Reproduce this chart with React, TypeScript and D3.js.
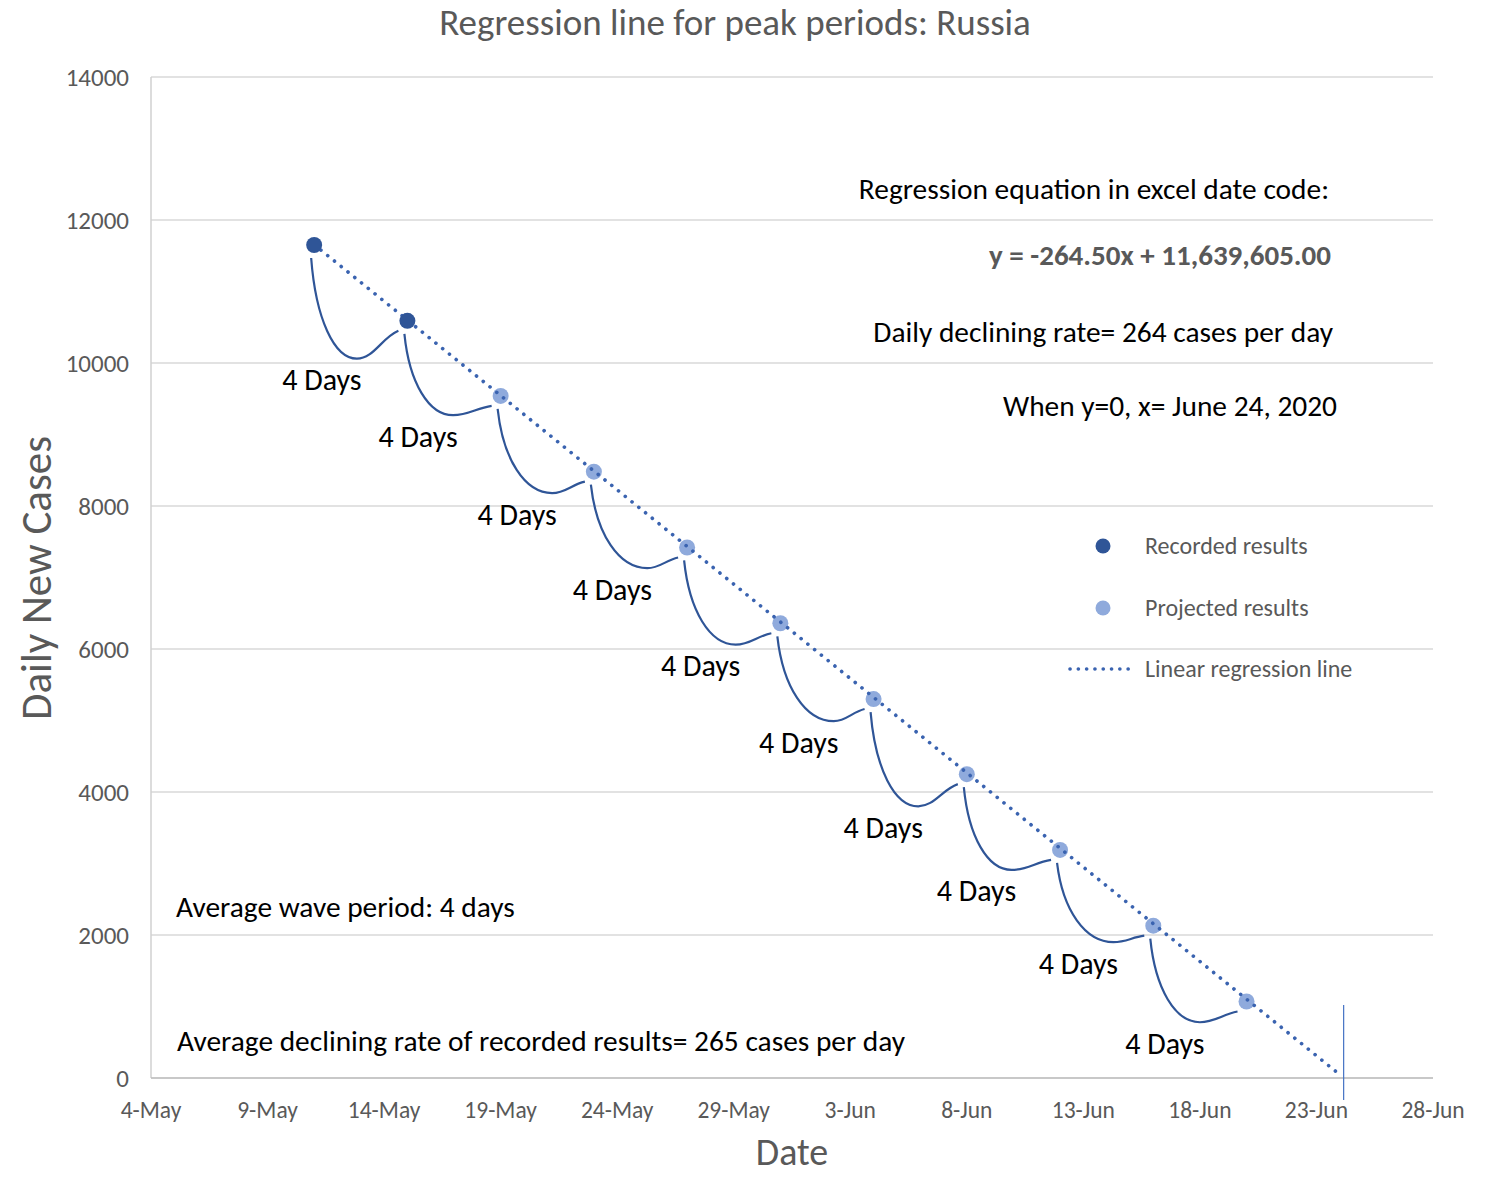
import React from 'react';
import * as d3 from 'd3';

// peaks every 4 days, first two recorded, rest projected
const peakDates = ['2020-05-11', '2020-05-15', '2020-05-19', '2020-05-23', '2020-05-27', '2020-05-31', '2020-06-04', '2020-06-08', '2020-06-12', '2020-06-16', '2020-06-20'];
const peakValues = [11650, 10590, 9540, 8480, 7420, 6360, 5300, 4250, 3190, 2130, 1070];
const peakKinds = ['Recorded', 'Recorded', 'Projected', 'Projected', 'Projected', 'Projected', 'Projected', 'Projected', 'Projected', 'Projected', 'Projected'];

// wave troughs between peaks (days after the peak, cases)
const troughOffsetDays = [1.85, 1.95, 2.2, 2.3, 2.1, 2.3, 1.9, 1.9, 2.3, 2.0];
const troughValues = [10060, 9270, 8180, 7130, 6060, 4990, 3800, 2910, 1900, 780];
const waveLabels = ['4 Days', '4 Days', '4 Days', '4 Days', '4 Days', '4 Days', '4 Days', '4 Days', '4 Days', '4 Days'];

// regression line ends
const regDates = ['2020-05-11', '2020-06-23T22:00'];
const regValues = [11656, 70];
const zeroDate = '2020-06-24T04:00';

const yTicks = [0, 2000, 4000, 6000, 8000, 10000, 12000, 14000];
const xStart = '2020-05-04';
const xEnd = '2020-06-28';

const W = 1494;
const H = 1179;
const margin = { top: 77, right: 61, bottom: 101, left: 151 };
const FONT = "Carlito, Calibri, Lato, 'Open Sans', sans-serif";
const GREY = '#595959';
const DARK = '#2F5597';
const LIGHT = '#8FAADC';
const DOTS = '#3A63B0';

const parse = (s: string) => (s.includes('T') ? d3.timeParse('%Y-%m-%dT%H:%M')(s) : d3.timeParse('%Y-%m-%d')(s)) as Date;

const App = () => {
  const x = d3.scaleTime().domain([parse(xStart), parse(xEnd)]).range([margin.left, W - margin.right]);
  const y = d3.scaleLinear().domain([0, 14000]).range([H - margin.bottom, margin.top]);
  const fmt = d3.timeFormat('%-d-%b');
  const xTicks = d3.range(0, 56, 5).map(d => d3.timeDay.offset(parse(xStart), d));

  const peaks = peakDates.map((d, i) => ({ date: parse(d), value: peakValues[i], kind: peakKinds[i] }));

  const waves = troughValues.map((v, i) => {
    const p0 = peaks[i];
    const p1 = peaks[i + 1];
    const s = [x(p0.date) - 3, y(p0.value) + 13];
    const t = [x(d3.timeHour.offset(p0.date, Math.round(troughOffsetDays[i] * 24))), y(v)];
    const e = [x(p1.date) - 9, y(p1.value) + 10];
    const p = d3.path();
    p.moveTo(s[0], s[1]);
    const dxs = t[0] - s[0];
    const dys = t[1] - s[1];
    p.bezierCurveTo(s[0] + 0.1 * dxs, s[1] + 0.6 * dys, t[0] - 0.5 * dxs, t[1], t[0], t[1]);
    const dxe = e[0] - t[0];
    const dye = t[1] - e[1];
    p.bezierCurveTo(t[0] + 0.4 * dxe, t[1], e[0] - 0.4 * dxe, e[1] + 0.25 * dye, e[0], e[1]);
    return { d: p.toString(), tx: t[0], ty: t[1], label: waveLabels[i] };
  });

  const regLine = d3.line<number>()
    .x((_, i) => x(parse(regDates[i])))
    .y(v => y(v));

  const plotW = W - margin.left - margin.right;

  return (
    <svg width={W} height={H} style={{ position: 'absolute', left: 0, top: 0, background: '#fff' }} fontFamily={FONT}>
      {/* grid */}
      {yTicks.map(t => (
        <line key={t} x1={margin.left} x2={margin.left + plotW} y1={y(t)} y2={y(t)} stroke="#d9d9d9" strokeWidth={1.5} />
      ))}
      <line x1={margin.left} x2={margin.left} y1={y(14000)} y2={y(0)} stroke="#d0d0d0" strokeWidth={1.5} />
      <line x1={margin.left} x2={margin.left + plotW} y1={y(0)} y2={y(0)} stroke="#bfbfbf" strokeWidth={1.5} />

      {/* y tick labels */}
      {yTicks.map(t => (
        <text key={t} x={129} y={y(t)} dy="0.35em" textAnchor="end" fontSize={25} fill={GREY}>{t}</text>
      ))}
      {/* x tick labels */}
      {xTicks.map(t => (
        <text key={+t} x={x(t)} y={1110} dy="0.35em" textAnchor="middle" fontSize={23.5} fill={GREY}>{fmt(t)}</text>
      ))}

      {/* waves */}
      {waves.map((w, i) => (
        <g key={i}>
          <path d={w.d} fill="none" stroke={DARK} strokeWidth={2.2} />
          <text x={w.tx - 35} y={w.ty + 21} dy="0.35em" textAnchor="middle" fontSize={30} fill="#000">{w.label}</text>
        </g>
      ))}

      {/* projected markers under the line */}
      {peaks.filter(p => p.kind === 'Projected').map((p, i) => (
        <circle key={i} cx={x(p.date)} cy={y(p.value)} r={8} fill={LIGHT} />
      ))}
      <path d={regLine(regValues) || ''} fill="none" stroke={DOTS} strokeWidth={3.6} strokeLinecap="round" strokeDasharray="0.1 8.6" />
      {peaks.filter(p => p.kind === 'Recorded').map((p, i) => (
        <circle key={i} cx={x(p.date)} cy={y(p.value)} r={8} fill={DARK} />
      ))}

      {/* x intercept marker */}
      <line x1={x(parse(zeroDate))} x2={x(parse(zeroDate))} y1={1005} y2={1100} stroke="#4472C4" strokeWidth={1.2} />

      {/* legend */}
      <circle cx={1103} cy={546} r={7.5} fill={DARK} />
      <text x={1145} y={546} dy="0.35em" fontSize={24} fill={GREY}>Recorded results</text>
      <circle cx={1103} cy={608} r={7.5} fill={LIGHT} />
      <text x={1145} y={608} dy="0.35em" fontSize={24} fill={GREY}>Projected results</text>
      <line x1={1070} x2={1136} y1={669} y2={669} stroke={DOTS} strokeWidth={3.6} strokeLinecap="round" strokeDasharray="0.1 8.2" />
      <text x={1145} y={669} dy="0.35em" fontSize={24} fill={GREY}>Linear regression line</text>

      {/* annotations */}
      <text x={1329} y={189} dy="0.35em" textAnchor="end" fontSize={29.4} fill="#000">Regression equation in excel date code:</text>
      <text x={1331} y={255} dy="0.35em" textAnchor="end" fontSize={29} fontWeight="bold" fill={GREY}>y = -264.50x + 11,639,605.00</text>
      <text x={1333} y={332} dy="0.35em" textAnchor="end" fontSize={29.4} fill="#000">Daily declining rate= 264 cases per day</text>
      <text x={1337} y={406} dy="0.35em" textAnchor="end" fontSize={29.4} fill="#000">When y=0, x= June 24, 2020</text>
      <text x={176} y={907} dy="0.35em" fontSize={29.4} fill="#000">Average wave period: 4 days</text>
      <text x={177} y={1041} dy="0.35em" fontSize={29.4} fill="#000">Average declining rate of recorded results= 265 cases per day</text>

      {/* titles */}
      <text x={735} y={22} dy="0.35em" textAnchor="middle" fontSize={37} fill={GREY}>Regression line for peak periods: Russia</text>
      <text x={792} y={1165} textAnchor="middle" fontSize={38} fill={GREY}>Date</text>
      <text transform={`translate(36,578) rotate(-90)`} dy="0.35em" textAnchor="middle" fontSize={43} fill={GREY}>Daily New Cases</text>
    </svg>
  );
};

export default App;
